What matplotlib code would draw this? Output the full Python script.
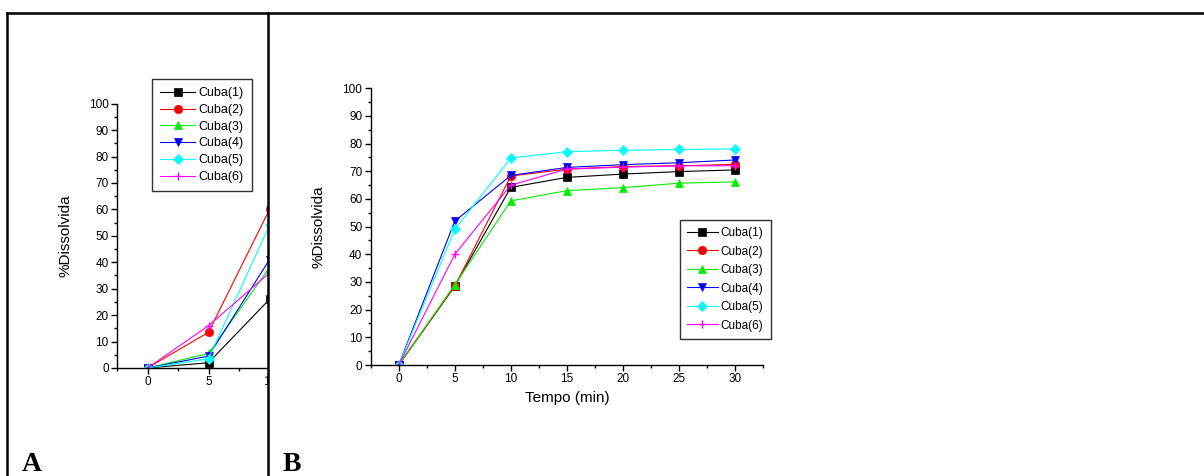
import matplotlib
matplotlib.use('Agg')
import matplotlib.pyplot as plt
from matplotlib.ticker import MultipleLocator
from matplotlib.patches import Rectangle
from matplotlib.lines import Line2D

plt.rcParams['font.family'] = ['Liberation Sans', 'DejaVu Sans']

# data
tempo_a = [0, 5, 10]
cubas_a = {
    'Cuba(1)': [0, 2, 26],
    'Cuba(2)': [0, 13.5, 60],
    'Cuba(3)': [0, 5.5, 38],
    'Cuba(4)': [0, 4.5, 41],
    'Cuba(5)': [0, 3.5, 54],
    'Cuba(6)': [0, 16, 36],
}

tempo_b = [0, 5, 10, 15, 20, 25, 30]
cubas_b = {
    'Cuba(1)': [0, 28.5, 64.2, 67.8, 69.0, 69.9, 70.5],
    'Cuba(2)': [0, 28.5, 68.3, 70.8, 71.7, 72.0, 72.5],
    'Cuba(3)': [0, 29.0, 59.3, 63.0, 64.1, 65.7, 66.2],
    'Cuba(4)': [0, 52.0, 68.5, 71.4, 72.4, 73.1, 74.1],
    'Cuba(5)': [0, 49.0, 74.8, 77.1, 77.6, 77.9, 78.1],
    'Cuba(6)': [0, 40.0, 65.0, 70.8, 71.5, 72.0, 72.0],
}

colors = ['black', 'red', '#00ee00', 'blue', 'cyan', 'magenta']
markers = ['s', 'o', '^', 'v', 'D', '+']

W, H = 1204, 476
fig = plt.figure(figsize=(W / 100, H / 100), dpi=100)


def fx(px):
    return px / W


def fy(py):
    return 1 - py / H


def style_axes(ax):
    for s in ['top', 'right']:
        ax.spines[s].set_visible(False)
    for s in ['left', 'bottom']:
        ax.spines[s].set_linewidth(1.0)
    ax.set_ylim(0, 100)
    ax.yaxis.set_major_locator(MultipleLocator(10))
    ax.yaxis.set_minor_locator(MultipleLocator(5))
    ax.xaxis.set_major_locator(MultipleLocator(5))
    ax.xaxis.set_minor_locator(MultipleLocator(2.5))
    ax.tick_params(which='major', direction='out', length=4, width=1,
                   labelsize=8.5, pad=2)
    ax.tick_params(which='minor', direction='out', length=2.5, width=1)
    ax.patch.set_alpha(0)


def draw_lines(ax, x, data, lw):
    for (name, vals), c, m in zip(data.items(), colors, markers):
        ms = 6
        if m == 'D':
            ms = 5
        ax.plot(x, vals, color=c, marker=m, markersize=ms, linewidth=lw,
                markeredgewidth=1 if m == '+' else 0.5, label=name)


leg_kw = dict(loc='upper left', bbox_transform=fig.transFigure,
              borderaxespad=0, fancybox=False, framealpha=1,
              edgecolor='#333333', handletextpad=0.25)

# panel A (clipped by panel B)
axA = fig.add_axes([fx(117), fy(368), fx(12.2 * 17.5), fy(103.7) - fy(368)])
axA.set_zorder(0)
draw_lines(axA, tempo_a, cubas_a, 0.8)
axA.set_xlim(-2.5, 15)
style_axes(axA)
axA.set_ylabel('%Dissolvida', fontsize=11, labelpad=12)
axA.legend(bbox_to_anchor=(fx(152), fy(79)), fontsize=9, handlelength=2.8,
           labelspacing=0.38, borderpad=0.65, **leg_kw)

# white cover for the right part
cover = Rectangle((fx(268), 0), 1 - fx(268), fy(13), transform=fig.transFigure,
                  facecolor='white', edgecolor='none', zorder=1)
fig.add_artist(cover)

# panel B
axB = fig.add_axes([fx(370.7), fy(365), fx(763 - 370.7), fy(88.3) - fy(365)])
axB.set_zorder(2)
draw_lines(axB, tempo_b, cubas_b, 0.8)
axB.set_xlim(-2.5, 32.5)
style_axes(axB)
axB.set_ylabel('%Dissolvida', fontsize=11, labelpad=12)
axB.set_xlabel('Tempo (min)', fontsize=11, labelpad=4)
axB.legend(bbox_to_anchor=(fx(680), fy(220)), fontsize=8.5, handlelength=2.6,
           labelspacing=0.55, borderpad=0.6, **leg_kw)

# border lines
for xs, ys in [([fx(7), 1], [fy(13), fy(13)]),
               ([fx(7), fx(7)], [fy(13), 0]),
               ([fx(268), fx(268)], [fy(13), 0])]:
    fig.add_artist(Line2D(xs, ys, color='black', linewidth=1.8, zorder=5,
                          transform=fig.transFigure))

fig.text(fx(22), fy(471), 'A', fontsize=20, fontweight='bold',
         family='Liberation Serif', va='baseline', ha='left')
fig.text(fx(283), fy(471), 'B', fontsize=20, fontweight='bold',
         family='Liberation Serif', va='baseline', ha='left')

plt.savefig('out.png', dpi=100)
